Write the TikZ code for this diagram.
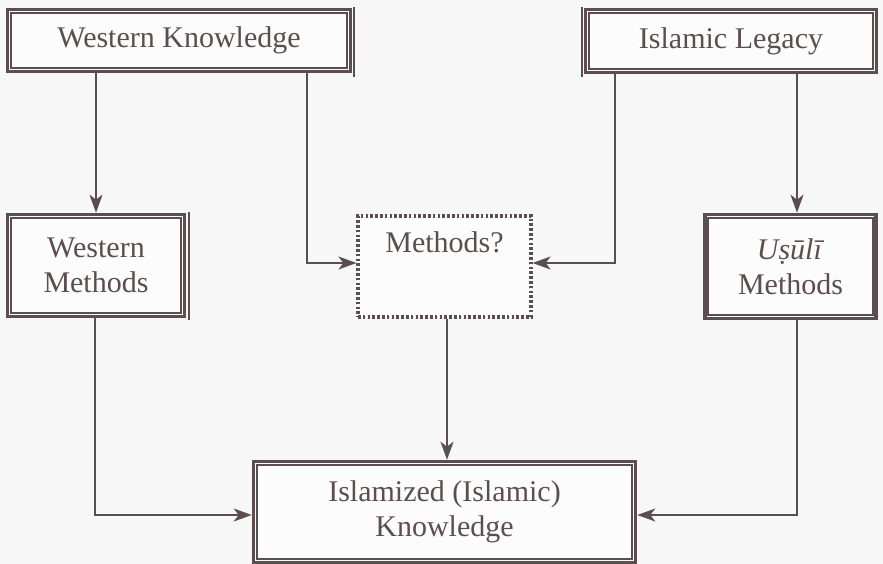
\documentclass[tikz,border=0pt]{standalone}
\usepackage{fontspec}
\setmainfont{Liberation Serif}
\usetikzlibrary{arrows.meta}
\definecolor{ink}{RGB}{92,78,78}
\definecolor{bg}{RGB}{247,247,247}
\begin{document}
\begin{tikzpicture}[x=1pt,y=-1pt,
  box/.style={draw=ink, line width=3.6pt, fill=white!60!bg, text=ink, align=center,
    font=\fontsize{30}{35}\selectfont, inner sep=0pt},
  dotbox/.style={draw=ink, line width=3.2pt, dash pattern=on 2.6pt off 2.2pt, fill=white!60!bg, inner sep=0pt},
  label/.style={text=ink, font=\fontsize{30}{35}\selectfont, inner sep=0pt},
  inner/.style={draw=ink, line width=1.9pt},
  side/.style={draw=ink, line width=2pt},
  arr/.style={draw=ink, line width=1.9pt, -{Stealth[length=18pt,width=13pt,inset=5pt]}}]
\useasboundingbox[fill=bg] (0,0) rectangle (883,564);
% boxes
\node[box, minimum width=343pt, minimum height=62pt] (wk) at (179,40.5) {Western Knowledge};
\node[box, minimum width=291pt, minimum height=63pt] (il) at (731,41) {Islamic Legacy};
\node[box, minimum width=177pt, minimum height=102pt] (wm) at (96,265.5) {Western\\Methods};
\node[dotbox, minimum width=173pt, minimum height=101pt] (m) at (444.5,266.5) {};
\node[label] (mt) at (444.5,242) {Methods?};
\node[box, minimum width=171pt, minimum height=104pt] (um) at (790.5,266.5) {\textit{Uṣūlī}\\Methods};
\node[box, minimum width=382pt, minimum height=101pt] (ik) at (444.5,512) {Islamized (Islamic)\\Knowledge};
% inner lines of double borders
\foreach \n in {wk,il,wm,um,ik}{
  \draw[inner] ([shift={(5.2pt,-5.2pt)}]\n.north west) rectangle ([shift={(-5.2pt,5.2pt)}]\n.south east);
}
% extra side lines
\coordinate (s1a) at (354,7); \coordinate (s1b) at (354,77);
\draw[side] (s1a) -- (s1b);
\coordinate (s2a) at (582,7); \coordinate (s2b) at (582,77);
\draw[side] (s2a) -- (s2b);
\coordinate (s3a) at (189,212); \coordinate (s3b) at (189,320);
\draw[side] (s3a) -- (s3b);
% turning points
\coordinate (p1) at (307,263);
\coordinate (p2) at (615,263);
\coordinate (p3) at (797,0);
\coordinate (p4) at (95,515);
\coordinate (p5) at (797,515);
\coordinate (p6) at (447,0);
% connectors
\draw[arr] (wk.south -| wm.north) -- (wm.north);
\draw[arr] (wk.south -| p1) -- (p1) -- (m.west |- p1);
\draw[arr] (il.south -| p2) -- (p2) -- (m.east |- p2);
\draw[arr] (il.south -| p3) -- (um.north -| p3);
\draw[arr] (wm.south -| p4) -- (p4) -- (ik.west |- p4);
\draw[arr] (m.south -| p6) -- (ik.north -| p6);
\draw[arr] (um.south -| p5) -- (p5) -- (ik.east |- p5);
\end{tikzpicture}
\end{document}
